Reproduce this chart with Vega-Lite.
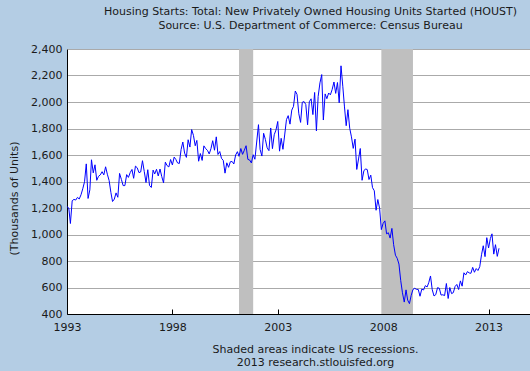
{
  "$schema": "https://vega.github.io/schema/vega-lite/v6.json",
  "width": 463,
  "height": 265,
  "autosize": "none",
  "padding": {"left": 67, "top": 49, "right": 0, "bottom": 57},
  "background": "#b4cde4",
  "config": {
    "view": {"fill": "white", "stroke": null},
    "font": "DejaVu Sans",
    "axis": {"labelFont": "DejaVu Sans", "titleFont": "DejaVu Sans", "labelColor": "#1a1a1a", "titleColor": "#1a1a1a"}
  },
  "title": {
    "text": ["Housing Starts: Total: New Privately Owned Housing Units Started (HOUST)", "Source: U.S. Department of Commerce: Census Bureau"],
    "fontSize": 11,
    "fontWeight": "normal",
    "font": "DejaVu Sans",
    "color": "#1a1a1a",
    "lineHeight": 14,
    "anchor": "middle",
    "dx": 12,
    "offset": 12
  },
  "datasets": {
    "houst": [
      {"d":"1993-01-01","v":1210},{"d":"1993-02-01","v":1200},{"d":"1993-03-01","v":1083},{"d":"1993-04-01","v":1255},{"d":"1993-05-01","v":1265},{"d":"1993-06-01","v":1260},{"d":"1993-07-01","v":1280},{"d":"1993-08-01","v":1268},{"d":"1993-09-01","v":1300},{"d":"1993-10-01","v":1345},{"d":"1993-11-01","v":1398},{"d":"1993-12-01","v":1533},
      {"d":"1994-01-01","v":1272},{"d":"1994-02-01","v":1337},{"d":"1994-03-01","v":1564},{"d":"1994-04-01","v":1465},{"d":"1994-05-01","v":1526},{"d":"1994-06-01","v":1409},{"d":"1994-07-01","v":1439},{"d":"1994-08-01","v":1450},{"d":"1994-09-01","v":1474},{"d":"1994-10-01","v":1450},{"d":"1994-11-01","v":1511},{"d":"1994-12-01","v":1455},
      {"d":"1995-01-01","v":1407},{"d":"1995-02-01","v":1316},{"d":"1995-03-01","v":1249},{"d":"1995-04-01","v":1267},{"d":"1995-05-01","v":1314},{"d":"1995-06-01","v":1281},{"d":"1995-07-01","v":1461},{"d":"1995-08-01","v":1416},{"d":"1995-09-01","v":1369},{"d":"1995-10-01","v":1369},{"d":"1995-11-01","v":1452},{"d":"1995-12-01","v":1431},
      {"d":"1996-01-01","v":1467},{"d":"1996-02-01","v":1491},{"d":"1996-03-01","v":1424},{"d":"1996-04-01","v":1516},{"d":"1996-05-01","v":1504},{"d":"1996-06-01","v":1467},{"d":"1996-07-01","v":1472},{"d":"1996-08-01","v":1557},{"d":"1996-09-01","v":1475},{"d":"1996-10-01","v":1392},{"d":"1996-11-01","v":1489},{"d":"1996-12-01","v":1370},
      {"d":"1997-01-01","v":1355},{"d":"1997-02-01","v":1486},{"d":"1997-03-01","v":1457},{"d":"1997-04-01","v":1492},{"d":"1997-05-01","v":1442},{"d":"1997-06-01","v":1494},{"d":"1997-07-01","v":1437},{"d":"1997-08-01","v":1390},{"d":"1997-09-01","v":1546},{"d":"1997-10-01","v":1520},{"d":"1997-11-01","v":1510},{"d":"1997-12-01","v":1566},
      {"d":"1998-01-01","v":1525},{"d":"1998-02-01","v":1584},{"d":"1998-03-01","v":1567},{"d":"1998-04-01","v":1540},{"d":"1998-05-01","v":1536},{"d":"1998-06-01","v":1641},{"d":"1998-07-01","v":1698},{"d":"1998-08-01","v":1614},{"d":"1998-09-01","v":1582},{"d":"1998-10-01","v":1715},{"d":"1998-11-01","v":1660},{"d":"1998-12-01","v":1792},
      {"d":"1999-01-01","v":1748},{"d":"1999-02-01","v":1670},{"d":"1999-03-01","v":1710},{"d":"1999-04-01","v":1553},{"d":"1999-05-01","v":1611},{"d":"1999-06-01","v":1559},{"d":"1999-07-01","v":1669},{"d":"1999-08-01","v":1648},{"d":"1999-09-01","v":1635},{"d":"1999-10-01","v":1608},{"d":"1999-11-01","v":1648},{"d":"1999-12-01","v":1708},
      {"d":"2000-01-01","v":1636},{"d":"2000-02-01","v":1737},{"d":"2000-03-01","v":1604},{"d":"2000-04-01","v":1626},{"d":"2000-05-01","v":1575},{"d":"2000-06-01","v":1559},{"d":"2000-07-01","v":1463},{"d":"2000-08-01","v":1541},{"d":"2000-09-01","v":1507},{"d":"2000-10-01","v":1549},{"d":"2000-11-01","v":1551},{"d":"2000-12-01","v":1532},
      {"d":"2001-01-01","v":1600},{"d":"2001-02-01","v":1625},{"d":"2001-03-01","v":1590},{"d":"2001-04-01","v":1649},{"d":"2001-05-01","v":1605},{"d":"2001-06-01","v":1636},{"d":"2001-07-01","v":1670},{"d":"2001-08-01","v":1567},{"d":"2001-09-01","v":1562},{"d":"2001-10-01","v":1540},{"d":"2001-11-01","v":1602},{"d":"2001-12-01","v":1568},
      {"d":"2002-01-01","v":1698},{"d":"2002-02-01","v":1829},{"d":"2002-03-01","v":1642},{"d":"2002-04-01","v":1592},{"d":"2002-05-01","v":1764},{"d":"2002-06-01","v":1717},{"d":"2002-07-01","v":1655},{"d":"2002-08-01","v":1633},{"d":"2002-09-01","v":1804},{"d":"2002-10-01","v":1648},{"d":"2002-11-01","v":1753},{"d":"2002-12-01","v":1788},
      {"d":"2003-01-01","v":1853},{"d":"2003-02-01","v":1629},{"d":"2003-03-01","v":1726},{"d":"2003-04-01","v":1643},{"d":"2003-05-01","v":1751},{"d":"2003-06-01","v":1867},{"d":"2003-07-01","v":1897},{"d":"2003-08-01","v":1833},{"d":"2003-09-01","v":1939},{"d":"2003-10-01","v":1967},{"d":"2003-11-01","v":2083},{"d":"2003-12-01","v":2057},
      {"d":"2004-01-01","v":1911},{"d":"2004-02-01","v":1846},{"d":"2004-03-01","v":1998},{"d":"2004-04-01","v":2003},{"d":"2004-05-01","v":1981},{"d":"2004-06-01","v":1828},{"d":"2004-07-01","v":2002},{"d":"2004-08-01","v":2024},{"d":"2004-09-01","v":1905},{"d":"2004-10-01","v":2072},{"d":"2004-11-01","v":1782},{"d":"2004-12-01","v":2042},
      {"d":"2005-01-01","v":2144},{"d":"2005-02-01","v":2207},{"d":"2005-03-01","v":1864},{"d":"2005-04-01","v":2061},{"d":"2005-05-01","v":2025},{"d":"2005-06-01","v":2068},{"d":"2005-07-01","v":2054},{"d":"2005-08-01","v":2095},{"d":"2005-09-01","v":2151},{"d":"2005-10-01","v":2065},{"d":"2005-11-01","v":2147},{"d":"2005-12-01","v":1994},
      {"d":"2006-01-01","v":2273},{"d":"2006-02-01","v":2119},{"d":"2006-03-01","v":1969},{"d":"2006-04-01","v":1821},{"d":"2006-05-01","v":1942},{"d":"2006-06-01","v":1802},{"d":"2006-07-01","v":1737},{"d":"2006-08-01","v":1650},{"d":"2006-09-01","v":1720},{"d":"2006-10-01","v":1491},{"d":"2006-11-01","v":1570},{"d":"2006-12-01","v":1649},
      {"d":"2007-01-01","v":1409},{"d":"2007-02-01","v":1480},{"d":"2007-03-01","v":1495},{"d":"2007-04-01","v":1490},{"d":"2007-05-01","v":1415},{"d":"2007-06-01","v":1448},{"d":"2007-07-01","v":1354},{"d":"2007-08-01","v":1330},{"d":"2007-09-01","v":1183},{"d":"2007-10-01","v":1264},{"d":"2007-11-01","v":1197},{"d":"2007-12-01","v":1037},
      {"d":"2008-01-01","v":1084},{"d":"2008-02-01","v":1103},{"d":"2008-03-01","v":1005},{"d":"2008-04-01","v":1013},{"d":"2008-05-01","v":973},{"d":"2008-06-01","v":1046},{"d":"2008-07-01","v":923},{"d":"2008-08-01","v":844},{"d":"2008-09-01","v":820},{"d":"2008-10-01","v":777},{"d":"2008-11-01","v":652},{"d":"2008-12-01","v":560},
      {"d":"2009-01-01","v":490},{"d":"2009-02-01","v":582},{"d":"2009-03-01","v":505},{"d":"2009-04-01","v":478},{"d":"2009-05-01","v":540},{"d":"2009-06-01","v":585},{"d":"2009-07-01","v":594},{"d":"2009-08-01","v":586},{"d":"2009-09-01","v":585},{"d":"2009-10-01","v":534},{"d":"2009-11-01","v":588},{"d":"2009-12-01","v":581},
      {"d":"2010-01-01","v":614},{"d":"2010-02-01","v":604},{"d":"2010-03-01","v":636},{"d":"2010-04-01","v":687},{"d":"2010-05-01","v":583},{"d":"2010-06-01","v":536},{"d":"2010-07-01","v":546},{"d":"2010-08-01","v":599},{"d":"2010-09-01","v":594},{"d":"2010-10-01","v":543},{"d":"2010-11-01","v":545},{"d":"2010-12-01","v":539},
      {"d":"2011-01-01","v":630},{"d":"2011-02-01","v":517},{"d":"2011-03-01","v":600},{"d":"2011-04-01","v":554},{"d":"2011-05-01","v":561},{"d":"2011-06-01","v":608},{"d":"2011-07-01","v":623},{"d":"2011-08-01","v":585},{"d":"2011-09-01","v":650},{"d":"2011-10-01","v":610},{"d":"2011-11-01","v":711},{"d":"2011-12-01","v":694},
      {"d":"2012-01-01","v":720},{"d":"2012-02-01","v":710},{"d":"2012-03-01","v":707},{"d":"2012-04-01","v":752},{"d":"2012-05-01","v":715},{"d":"2012-06-01","v":743},{"d":"2012-07-01","v":728},{"d":"2012-08-01","v":757},{"d":"2012-09-01","v":847},{"d":"2012-10-01","v":915},{"d":"2012-11-01","v":833},{"d":"2012-12-01","v":976},
      {"d":"2013-01-01","v":898},{"d":"2013-02-01","v":969},{"d":"2013-03-01","v":1005},{"d":"2013-04-01","v":852},{"d":"2013-05-01","v":923},{"d":"2013-06-01","v":835},{"d":"2013-07-01","v":896}
    ],
    "rec": [
      {"start": "2001-03-01", "end": "2001-11-01"},
      {"start": "2007-12-01", "end": "2009-06-01"}
    ]
  },
  "layer": [
    {
      "data": {"name": "rec"},
      "mark": {"type": "rect", "color": "#bfbfbf", "opacity": 1},
      "encoding": {
        "x": {"field": "start", "type": "temporal"},
        "x2": {"field": "end"}
      }
    },
    {
      "data": {"name": "houst"},
      "mark": {"type": "line", "color": "#0000ff", "strokeWidth": 1, "interpolate": "linear"},
      "encoding": {
        "x": {
          "field": "d", "type": "temporal",
          "scale": {"domain": ["1993-01-01", "2014-12-20"], "nice": false},
          "axis": {
            "values": [{"year": 1993}, {"year": 1998}, {"year": 2003}, {"year": 2008}, {"year": 2013}],
            "format": "%Y",
            "grid": false,
            "domainColor": "#000000",
            "domainWidth": 1,
            "tickColor": "#000000",
            "tickSize": -5,
            "labelPadding": 12,
            "labelFontSize": 11,
            "labelFlush": false,
            "title": ["Shaded areas indicate US recessions.", "2013 research.stlouisfed.org"],
            "titleFontSize": 11,
            "titleFontWeight": "normal",
            "titleLineHeight": 13,
            "titleBaseline": "top",
            "titleAnchor": "start",
            "titleAlign": "center",
            "titleX": 248,
            "titleY": 29
          }
        },
        "y": {
          "field": "v", "type": "quantitative",
          "scale": {"domain": [400, 2400], "nice": false, "zero": false},
          "axis": {
            "values": [400, 600, 800, 1000, 1200, 1400, 1600, 1800, 2000, 2200, 2400],
            "format": ",.0f",
            "grid": true,
            "gridColor": "#aaaaaa",
            "gridWidth": 1,
            "gridOpacity": 1,
            "ticks": false,
            "domainColor": "#000000",
            "domainWidth": 1,
            "labelPadding": 5,
            "labelFontSize": 11,
            "labelFlush": false,
            "title": "(Thousands of Units)",
            "titleFontSize": 11,
            "titleFontWeight": "normal",
            "titleAngle": -90,
            "titleBaseline": "alphabetic",
            "titleAlign": "center",
            "titleX": -50,
            "titleY": 149
          }
        }
      }
    }
  ]
}
